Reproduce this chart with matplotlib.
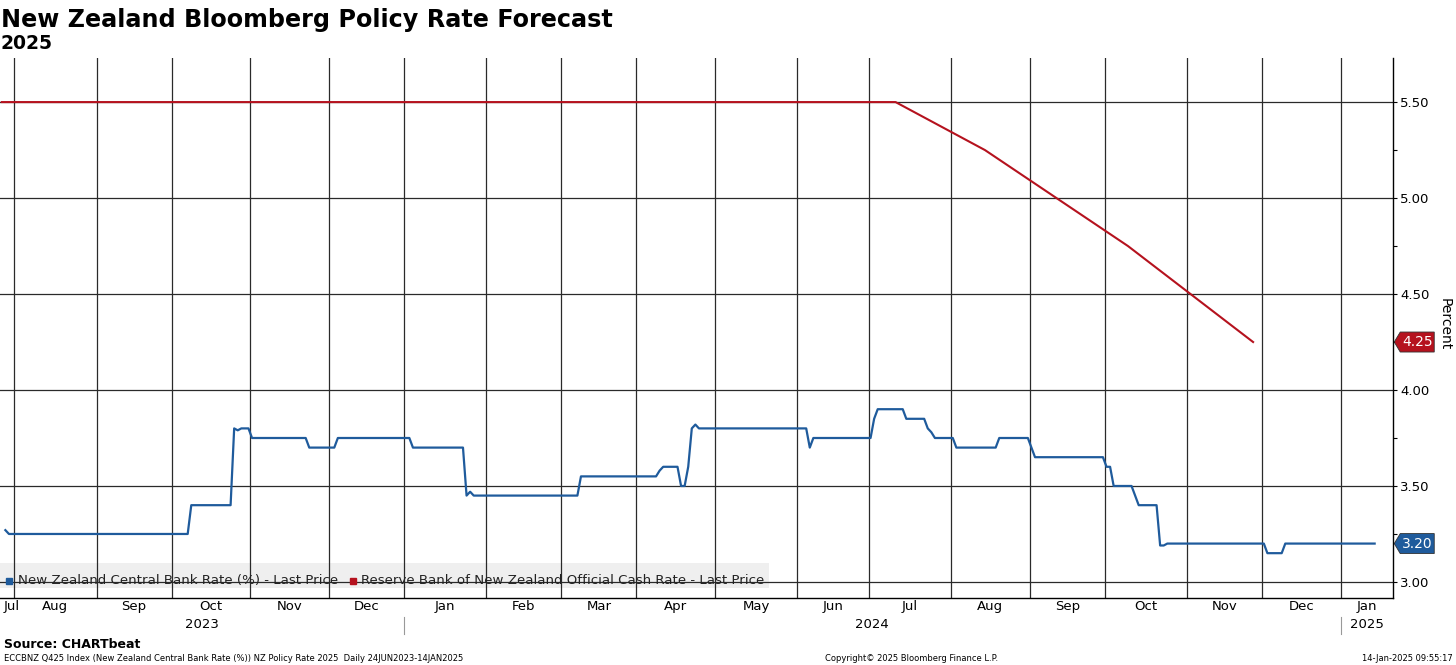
import numpy as np
import pandas as pd
import matplotlib
matplotlib.use("Agg")
import matplotlib.pyplot as plt
from matplotlib.patches import Rectangle, Polygon

# ECCBNZ Q425 index (expected NZ policy rate for Q4 2025), change points
blue_dates = ['2023-07-27', '2023-07-28', '2023-10-09', '2023-10-25', '2023-10-26', '2023-10-27',
              '2023-11-01', '2023-11-23', '2023-12-05', '2024-01-03', '2024-01-24', '2024-01-25',
              '2024-01-26', '2024-03-08', '2024-04-09', '2024-04-10', '2024-04-17', '2024-04-19',
              '2024-04-22', '2024-04-23', '2024-04-24', '2024-06-06', '2024-06-07', '2024-07-02',
              '2024-07-03', '2024-07-15', '2024-07-23', '2024-07-24', '2024-07-25', '2024-08-02',
              '2024-08-20', '2024-09-02', '2024-09-03', '2024-10-01', '2024-10-03', '2024-10-11',
              '2024-10-14', '2024-10-22', '2024-10-24', '2024-12-03', '2024-12-10']
blue_values = [3.27, 3.25, 3.40, 3.80, 3.79, 3.80, 3.75, 3.70, 3.75, 3.70,
               3.45, 3.47, 3.45, 3.55, 3.58, 3.60, 3.50, 3.60, 3.80, 3.82,
               3.80, 3.70, 3.75, 3.85, 3.90, 3.85, 3.80, 3.78, 3.75, 3.70,
               3.75, 3.70, 3.65, 3.60, 3.50, 3.45, 3.40, 3.19, 3.20, 3.15,
               3.20]

# RBNZ official cash rate (points joined by straight lines as in the chart)
red_dates = ['2023-07-26', '2024-07-10', '2024-08-14', '2024-10-09', '2024-11-27']
red_values = [5.50, 5.50, 5.25, 4.75, 4.25]

blue_label = 'New Zealand Central Bank Rate (%) - Last Price'
red_label = 'Reserve Bank of New Zealand Official Cash Rate - Last Price'
month_names = ['Jan', 'Feb', 'Mar', 'Apr', 'May', 'Jun', 'Jul', 'Aug', 'Sep', 'Oct', 'Nov', 'Dec']

BLUE = '#1f5b9c'
RED = '#b5121e'
GRID = '#2a2a2a'

# x axis = trading days, like the Bloomberg chart
days = pd.bdate_range('2023-07-26', '2025-01-14')
pos = pd.Series(np.arange(len(days)), index=days)

blue = pd.Series(blue_values, index=pd.to_datetime(blue_dates)).reindex(days, method='ffill').dropna()
red = pd.Series(red_values, index=pd.to_datetime(red_dates))

fig = plt.figure(figsize=(14.56, 6.65), dpi=100)
ax = fig.add_axes([0.0, 0.1012, 0.9569, 0.8111])

xmin, xmax = -0.5, len(days) - 1 + 5.2
ax.set_xlim(xmin, xmax)
ax.set_ylim(2.918, 5.728)

ax.plot(pos[blue.index].values, blue.values, color=BLUE, lw=1.6, zorder=3)
ax.plot(pos[red.index].values, red.values, color=RED, lw=1.5, zorder=3)

# month boundaries -> vertical grid lines
firsts = days.to_series().groupby(days.to_period('M')).first()
firsts = firsts[firsts.dt.day <= 3]
bounds = pos[firsts.values].values - 0.5
for b in bounds:
    ax.axvline(b, color=GRID, lw=0.9, zorder=1)

# y axis on the right
ax.yaxis.tick_right()
ax.set_yticks(np.arange(3.0, 5.51, 0.5))
ax.set_yticks(np.arange(3.25, 5.5, 0.5), minor=True)
ax.set_yticklabels(['%.2f' % v for v in np.arange(3.0, 5.51, 0.5)], fontsize=9.5)
ax.tick_params(axis='y', which='both', direction='out', length=3, width=0.8, pad=2, colors='black')
ax.set_xticks([])
ax.grid(axis='y', which='major', color=GRID, lw=0.9)
ax.set_axisbelow(True)
for s in ['left', 'top']:
    ax.spines[s].set_visible(False)
ax.spines['right'].set_linewidth(1.0)
ax.spines['bottom'].set_linewidth(1.0)

# month and year labels under the axis
xt = ax.get_xaxis_transform()
edges = [xmin] + list(bounds) + [xmax]
all_months = list(days.to_period('M').unique())
for k, per in enumerate(all_months):
    lo, hi = edges[k], edges[k + 1]
    name = month_names[per.month - 1]
    if k == 0:
        ax.text(lo + 1.1, -0.0172, name, transform=xt, ha='left', va='center', fontsize=9.5)
    else:
        ax.text((lo + hi) / 2, -0.0172, name, transform=xt, ha='center', va='center', fontsize=9.5)

jan_bounds = [b for b, f in zip(bounds, firsts.values) if pd.Timestamp(f).month == 1]
year_edges = [xmin] + jan_bounds + [xmax]
for k, yr in enumerate(['2023', '2024', '2025']):
    ax.text((year_edges[k] + year_edges[k + 1]) / 2, -0.0506, yr, transform=xt,
            ha='center', va='center', fontsize=9.5)
for b in jan_bounds:
    ax.plot([b, b], [-0.036, -0.068], transform=xt, color='#999999', lw=0.8, clip_on=False)

# legend band
ax.add_patch(Rectangle((0, 0.018), 0.552, 0.0463, transform=ax.transAxes,
                       facecolor='#efefef', edgecolor='none', zorder=0.5))
ax.plot([0.0065], [0.031], 's', ms=5, color=BLUE, transform=ax.transAxes, clip_on=False, zorder=4)
ax.text(0.0129, 0.031, blue_label, transform=ax.transAxes, va='center', ha='left',
        fontsize=9.6, color='#222222', zorder=4)
ax.plot([0.2537], [0.031], 's', ms=5, color=RED, transform=ax.transAxes, clip_on=False, zorder=4)
ax.text(0.2591, 0.031, red_label, transform=ax.transAxes, va='center', ha='left',
        fontsize=9.6, color='#222222', zorder=4)

# last value tags on the right axis
yt = ax.get_yaxis_transform()
px_x = 1.0 / 1393.3
px_y = (5.728 - 2.918) / 539.4
for val, col in [(blue.iloc[-1], BLUE), (red.iloc[-1], RED)]:
    tag = Polygon([(1 + 1 * px_x, val), (1 + 7 * px_x, val + 10 * px_y), (1 + 41 * px_x, val + 10 * px_y),
                   (1 + 41 * px_x, val - 10 * px_y), (1 + 7 * px_x, val - 10 * px_y)],
                  closed=True, transform=yt, facecolor=col, edgecolor='#333333', lw=0.6, clip_on=False)
    ax.add_patch(tag)
    ax.text(1 + 24.5 * px_x, val, '%.2f' % val, transform=yt, ha='center', va='center',
            color='white', fontsize=10)

fig.text(1445 / 1456, 1 - 324 / 665, 'Percent', rotation=270, ha='center', va='center', fontsize=10)

# titles and footer
fig.text(1 / 1456, 1 - 27 / 665, 'New Zealand Bloomberg Policy Rate Forecast', fontsize=17.2,
         fontweight='bold', ha='left', va='baseline')
fig.text(1 / 1456, 1 - 49 / 665, '2025', fontsize=13.5, fontweight='bold', ha='left', va='baseline')
fig.text(4 / 1456, 1 - 648 / 665, 'Source: CHARTbeat', fontsize=9, fontweight='bold', ha='left', va='baseline')
fig.text(4 / 1456, 1 - 661 / 665,
         'ECCBNZ Q425 Index (New Zealand Central Bank Rate (%)) NZ Policy Rate 2025  Daily 24JUN2023-14JAN2025',
         fontsize=6.0, ha='left', va='baseline')
fig.text(912 / 1456, 1 - 661 / 665, 'Copyright\u00a9 2025 Bloomberg Finance L.P.', fontsize=6.0,
         ha='center', va='baseline')
fig.text(1453 / 1456, 1 - 661 / 665, '14-Jan-2025 09:55:17', fontsize=6.0, ha='right', va='baseline')

fig.savefig('out.png', dpi=100)
